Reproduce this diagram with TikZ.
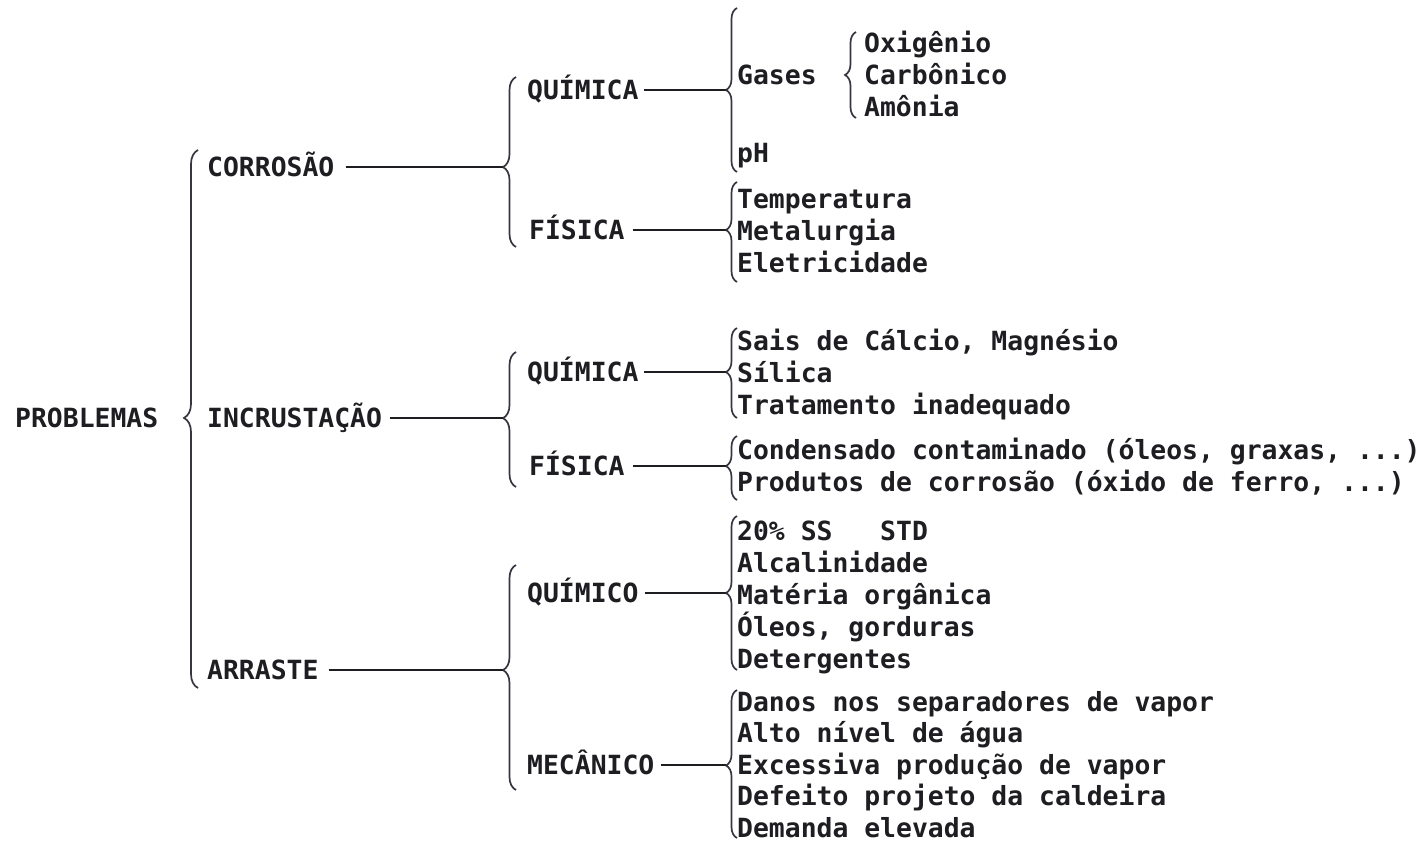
\documentclass[tikz,border=0pt]{standalone}
\usepackage{fontspec}
\setmonofont{DejaVu Sans Mono}
\usetikzlibrary{positioning, decorations.pathreplacing}
\definecolor{ink}{HTML}{1E1E22}
\definecolor{brk}{HTML}{3A3340}

\begin{document}
\begin{tikzpicture}[x=1pt,y=-1pt,
  font=\ttfamily\bfseries\fontsize{26.4}{31.5}\selectfont,
  lb/.style={anchor=west,inner sep=0pt,text height=19pt,text depth=0pt,text=ink},
  itm/.style={lb,below=12.5pt of #1.south west,anchor=north west},
  itn/.style={lb,below=12pt of #1.south west,anchor=north west},
  ln/.style={draw=ink,line width=1.7pt,shorten <=8pt},
  brc/.style={draw=brk,line width=1.7pt,decorate,decoration={brace,amplitude=#1}}]
  \useasboundingbox[fill=white] (0,0) rectangle (1427,842);
  % first and second level
  \node[lb](prob) at (15,418){PROBLEMAS};
  \node[lb](cor) at (207,167){CORROSÃO};
  \node[lb](inc) at (207,418){INCRUSTAÇÃO};
  \node[lb](arr) at (207,670){ARRASTE};
  \node[lb](cq) at (527,90){QUÍMICA};
  \node[lb](cf) at (529,230){FÍSICA};
  \node[lb](iq) at (527,372){QUÍMICA};
  \node[lb](ifs) at (529,466){FÍSICA};
  \node[lb](aq) at (527,593){QUÍMICO};
  \node[lb](am) at (527,765){MECÂNICO};
  % corrosao
  \node[lb](gas) at (737,75){Gases};
  \node[lb](ph) at (737,153){pH};
  \node[lb](oxi) at (864,43){Oxigênio};
  \node[itm=oxi](carb){Carbônico};
  \node[itm=carb](amo){Amônia};
  \node[lb](temp) at (737,199){Temperatura};
  \node[itm=temp](met){Metalurgia};
  \node[itm=met](ele){Eletricidade};
  % incrustacao
  \node[lb](sais) at (737,341){Sais de Cálcio, Magnésio};
  \node[itm=sais](sil){Sílica};
  \node[itm=sil](trat){Tratamento inadequado};
  \node[lb](cond) at (737,450){Condensado contaminado (óleos, graxas, ...)};
  \node[itm=cond](prod){Produtos de corrosão (óxido de ferro, ...)};
  % arraste
  \node[lb](ss) at (737,531){20\% SS\ \ \ STD};
  \node[itm=ss](alc){Alcalinidade};
  \node[itm=alc](mat){Matéria orgânica};
  \node[itm=mat](ole){Óleos, gorduras};
  \node[itm=ole](det){Detergentes};
  \node[lb](dan) at (737,702){Danos nos separadores de vapor};
  \node[itn=dan](alto){Alto nível de água};
  \node[itn=alto](exc){Excessiva produção de vapor};
  \node[itn=exc](def){Defeito projeto da caldeira};
  \node[itn=def](dem){Demanda elevada};
  % brace tips
  \coordinate(t0) at (184,418);
  \coordinate(t1) at (503,167);
  \coordinate(t2) at (503,418);
  \coordinate(t3) at (503,670);
  \coordinate(t4) at (726,90);
  \coordinate(t5) at (726,230);
  \coordinate(t6) at (726,372);
  \coordinate(t7) at (726,466);
  \coordinate(t8) at (726,593);
  \coordinate(t9) at (726,765);
  % braces
  \draw[brc=14pt,decoration={aspect=0.502}](198,688)--(198,150);
  \draw[brc=13pt,decoration={aspect=0.47}](516,247)--(516,77);
  \draw[brc=13pt,decoration={aspect=0.51}](516,487)--(516,352);
  \draw[brc=13pt,decoration={aspect=0.533}](516,790)--(516,565);
  \draw[brc=11pt,decoration={aspect=0.5}](737,172)--(737,8);
  \draw[brc=11pt,decoration={aspect=0.5}](856,118)--(856,32);
  \draw[brc=11pt,decoration={aspect=0.52}](737,282)--(737,182);
  \draw[brc=11pt,decoration={aspect=0.51}](737,418)--(737,328);
  \draw[brc=11pt,decoration={aspect=0.53}](737,500)--(737,436);
  \draw[brc=11pt,decoration={aspect=0.5}](737,670)--(737,516);
  \draw[brc=11pt,decoration={aspect=0.49}](737,838)--(737,690);
  % connectors
  \draw[ln,shorten <=11pt](cor)--(t1);
  \draw[ln](inc)--(t2);
  \draw[ln,shorten <=10pt](arr)--(t3);
  \draw[ln,shorten <=5pt](cq)--(t4);
  \draw[ln](cf)--(t5);
  \draw[ln,shorten <=5pt](iq)--(t6);
  \draw[ln](ifs)--(t7);
  \draw[ln,shorten <=6pt](aq)--(t8);
  \draw[ln,shorten <=6pt](am)--(t9);
\end{tikzpicture}
\end{document}
